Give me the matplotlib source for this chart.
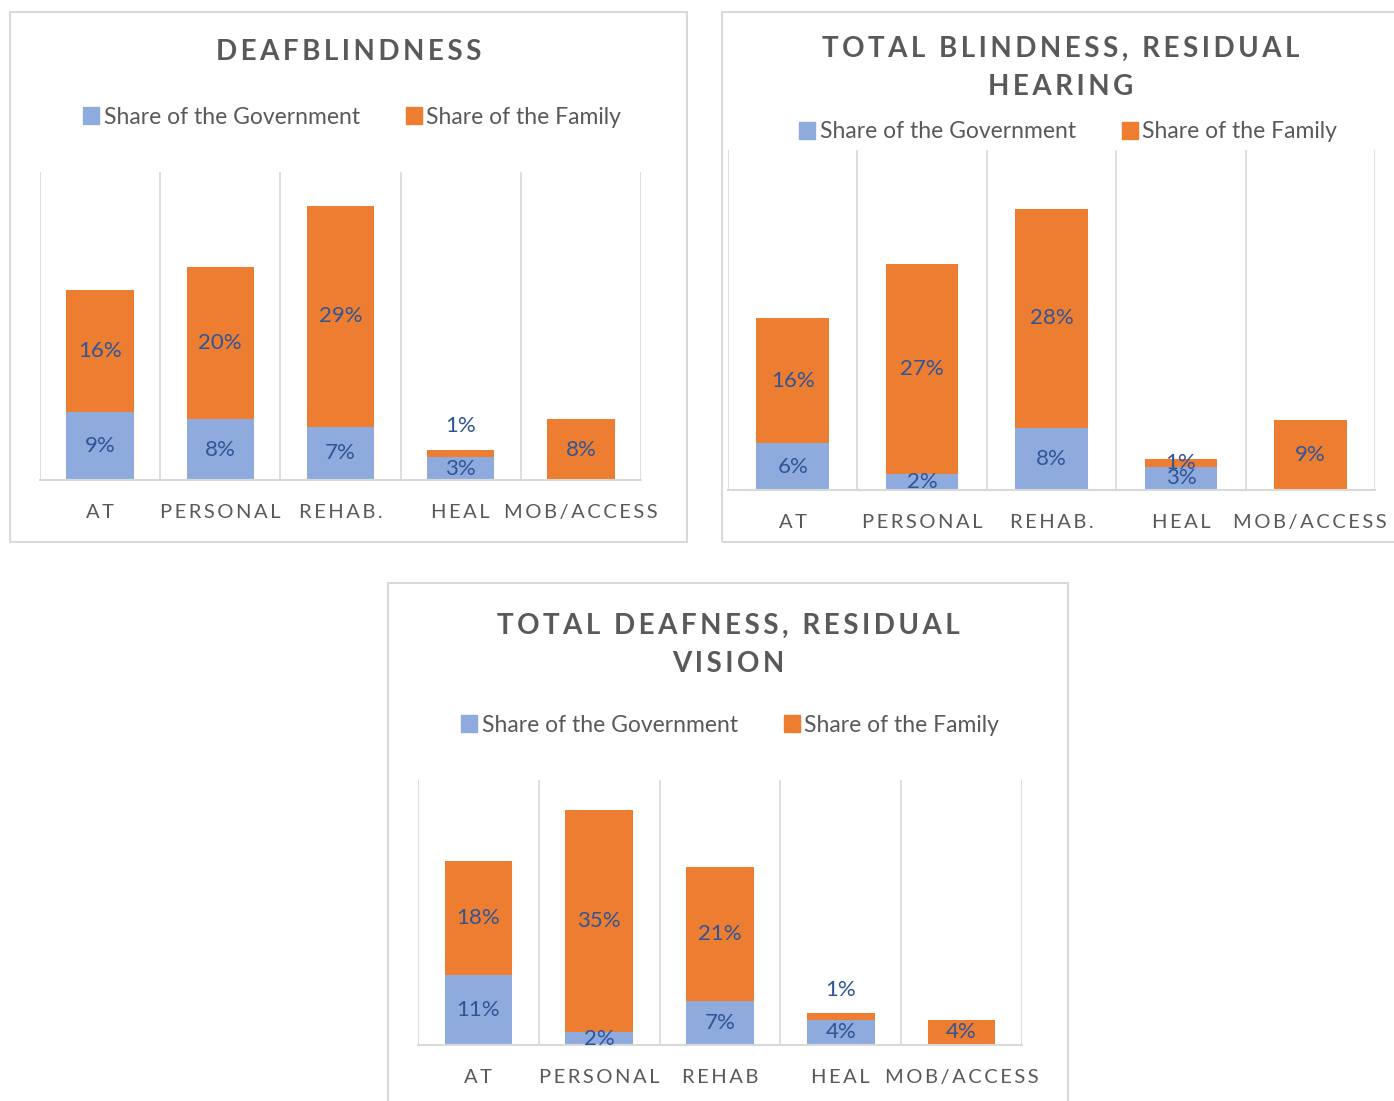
import matplotlib
matplotlib.use("Agg")
import matplotlib.pyplot as plt
from matplotlib.patches import Patch, Rectangle

plt.rcParams["font.family"] = ["Lato", "DejaVu Sans"]

# shares of expenditure (%) per category, one list per chart
titles = ["DEAFBLINDNESS",
          "TOTAL BLINDNESS, RESIDUAL\nHEARING",
          "TOTAL DEAFNESS, RESIDUAL\nVISION"]
categories = [
    ["AT", "PERSONAL", "REHAB.", "HEAL", "MOB/ACCESS"],
    ["AT", "PERSONAL", "REHAB.", "HEAL", "MOB/ACCESS"],
    ["AT", "PERSONAL", "REHAB", "HEAL", "MOB/ACCESS"],
]
gov_share = [
    [9, 8, 7, 3, 0],
    [6, 2, 8, 3, 0],
    [11, 2, 7, 4, 0],
]
family_share = [
    [16, 20, 29, 1, 8],
    [16, 27, 28, 1, 9],
    [18, 35, 21, 1, 4],
]
series_names = ["Share of the Government", "Share of the Family"]

GOV = "#8FAADC"
FAM = "#ED7D31"
LABEL = "#2F5597"
TEXT = "#595959"
GRID = "#D9D9D9"

W, H = 1394, 1101
fig = plt.figure(figsize=(W / 100, H / 100), dpi=100)


def rect(x0, y0, x1, y1):
    return [x0 / W, 1 - y1 / H, (x1 - x0) / W, (y1 - y0) / H]


def track(s, sep="\u2009"):
    return sep.join(s)


# pixel layout of each panel: frame, plot area, title centre, legend centre
panels = [
    dict(frame=(10, 12, 687, 542), plot=(40, 172, 641, 480), ymax=40.5,
         title_y=52, legend=(352, 117), above={3}),
    dict(frame=(722, 12, 1400, 542), plot=(728, 150, 1375, 490), ymax=43.6,
         title_y=68, legend=(1068, 132), above=set()),
    dict(frame=(388, 583, 1068, 1115), plot=(418, 780, 1022, 1045), ymax=41.7,
         title_y=645, legend=(730, 725), above={3}),
]

for i, p in enumerate(panels):
    fx0, fy0, fx1, fy1 = p["frame"]
    fig.add_artist(Rectangle((fx0 / W, 1 - fy1 / H), (fx1 - fx0) / W, (fy1 - fy0) / H,
                             transform=fig.transFigure, fill=False,
                             ec=GRID, lw=1.5))
    cx = (fx0 + fx1) / 2
    title = "\n".join(track(line) for line in titles[i].split("\n"))
    fig.text(cx / W, 1 - p["title_y"] / H, title, ha="center", va="center",
             fontsize=20, fontweight="bold", color=TEXT, linespacing=1.6)

    ax = fig.add_axes(rect(*p["plot"]))
    x = range(len(categories[i]))
    gov = gov_share[i]
    fam = family_share[i]
    ax.bar(x, gov, width=0.56, color=GOV, zorder=2)
    ax.bar(x, fam, width=0.56, bottom=gov, color=FAM, zorder=2)

    for j in x:
        if gov[j]:
            ax.text(j, gov[j] / 2, f"{gov[j]}%", ha="center", va="center",
                    fontsize=16, color=LABEL, zorder=3)
        if j in p["above"]:
            ax.annotate(f"{fam[j]}%", (j, gov[j] + fam[j]), xytext=(0, 17),
                        textcoords="offset points", ha="center", va="center",
                        fontsize=16, color=LABEL)
        else:
            ax.text(j, gov[j] + fam[j] / 2, f"{fam[j]}%", ha="center",
                    va="center", fontsize=16, color=LABEL, zorder=3)

    for b in [k - 0.5 for k in range(len(categories[i]) + 1)]:
        ax.axvline(b, color=GRID, lw=1.2, zorder=1)
    ax.set_xlim(-0.5, len(categories[i]) - 0.5)
    ax.set_ylim(0, p["ymax"])
    for side in ["top", "left", "right"]:
        ax.spines[side].set_visible(False)
    ax.spines["bottom"].set_color(GRID)
    ax.spines["bottom"].set_linewidth(1.5)
    ax.set_yticks([])
    ax.set_xticks(list(x), [track(c) for c in categories[i]])
    ax.tick_params(axis="x", length=0, pad=17, labelsize=14.5, labelcolor=TEXT)

    lx, ly = p["legend"]
    handles = [Patch(color=GOV), Patch(color=FAM)]
    fig.legend(handles, series_names, loc="center", ncol=2,
               bbox_to_anchor=(lx / W, 1 - ly / H), frameon=False,
               fontsize=16.5, labelcolor=TEXT, handlelength=0.7,
               handleheight=0.7, handletextpad=0.2, columnspacing=2.0)

fig.savefig("out.png", dpi=100, facecolor="white")
